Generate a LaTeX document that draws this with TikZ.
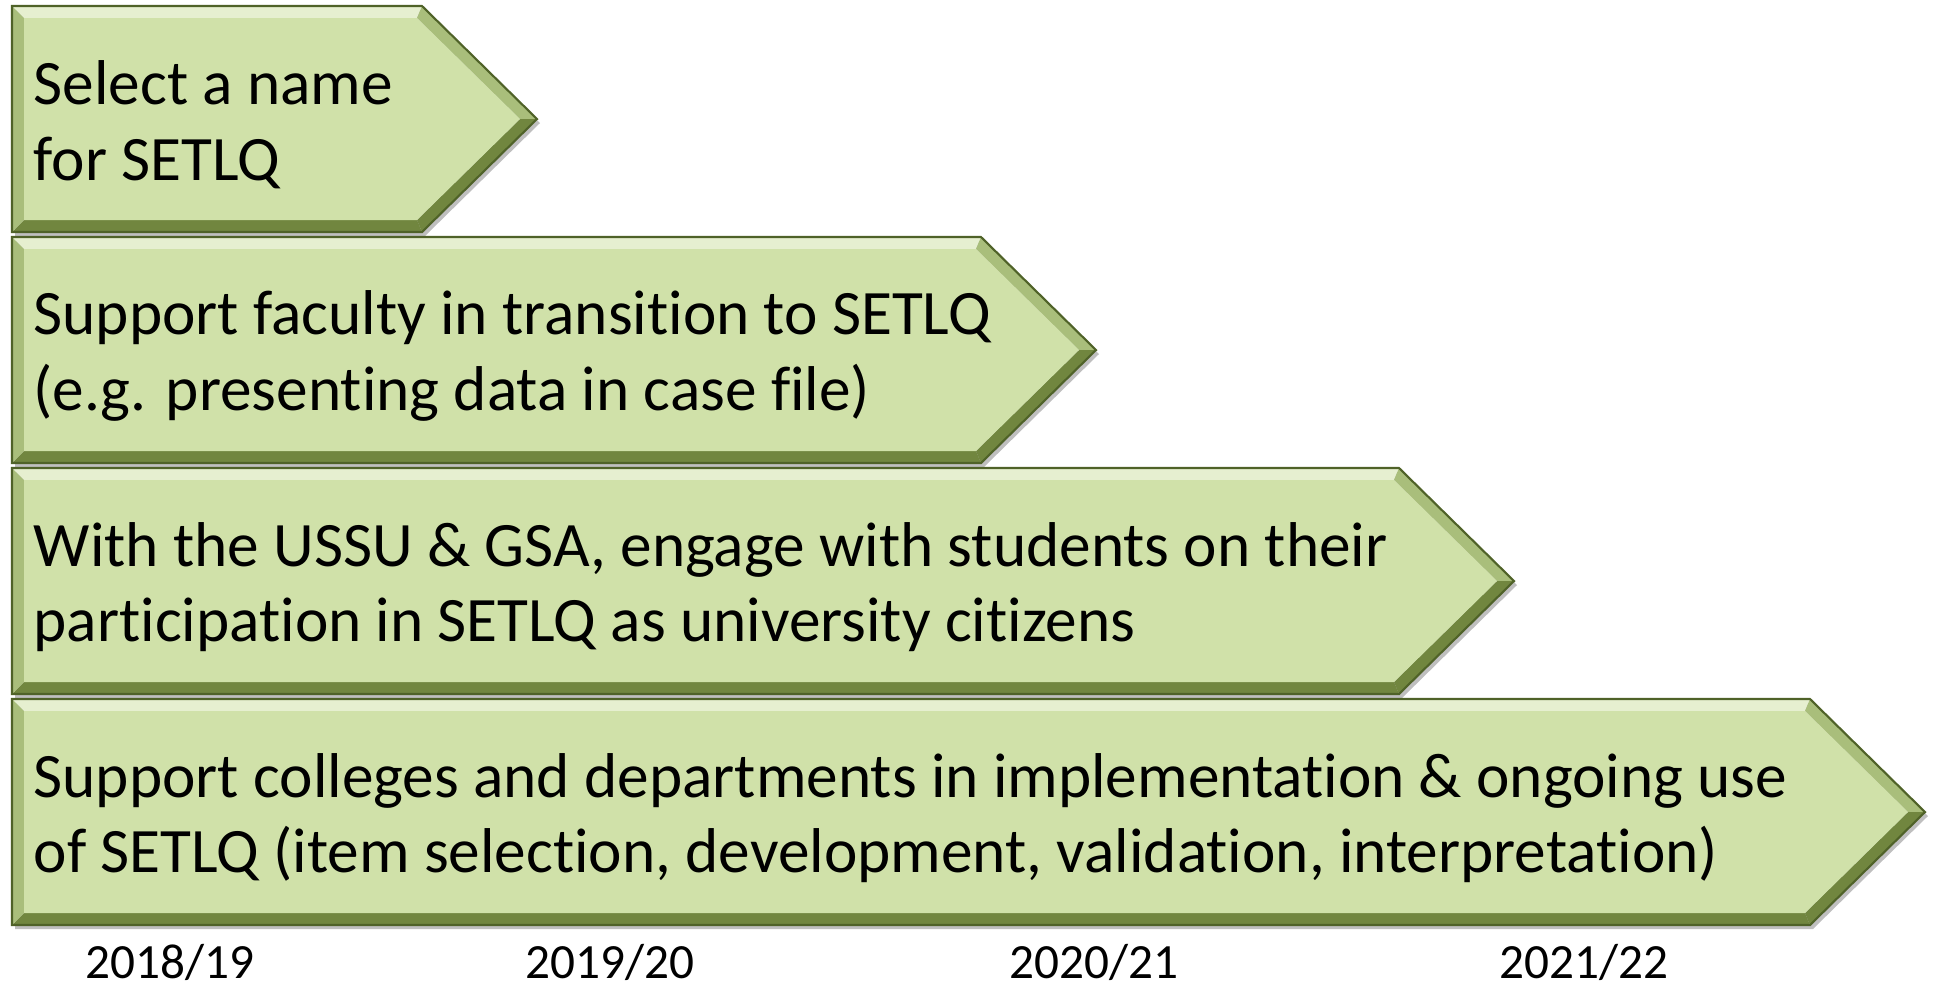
\documentclass[tikz,border=0pt]{standalone}
\usepackage{fontspec}
\setmainfont[Ligatures={NoCommon,NoRequired,NoContextual}]{Carlito}
\definecolor{mFace}{HTML}{D0E1A9}
\definecolor{mLight}{HTML}{E6EFD0}
\definecolor{mMid}{HTML}{A9BE7B}
\definecolor{mDark}{HTML}{71863F}
\definecolor{mEdge}{HTML}{4F6228}
\tikzstyle{face} = [fill=mFace]
\tikzstyle{bevlight} = [fill=mLight]
\tikzstyle{bevmid} = [fill=mMid]
\tikzstyle{bevdark} = [fill=mDark]
\tikzstyle{rim} = [draw=mEdge, line width=0.6pt, line join=miter]
\tikzstyle{shade} = [fill=black, opacity=0.25]
\tikzstyle{itemtext} = [anchor=west, align=left, inner sep=0pt,%
font=\fontsize{18}{21.5}\selectfont]
\tikzstyle{yeartext} = [inner sep=0pt, font=\fontsize{14}{16}\selectfont]
% #1 top, #2 bottom, #3 shoulder x
\newcommand{\chevron}[3]{%
  \pgfmathsetmacro{\cmid}{(#1+#2)/2}
  \pgfmathsetmacro{\ctip}{#3+115}
  \fill[shade] (15,#1+4) -- (#3+3,#1+4) -- (\ctip+3,\cmid+4) -- (#3+3,#2+4) -- (15,#2+4) -- cycle;
  \fill[bevlight] (12,#1) -- (#3,#1) -- (#3-5,#1+12) -- (24,#1+12) -- cycle;
  \fill[bevmid] (#3,#1) -- (\ctip,\cmid) -- (\ctip-17,\cmid) -- (#3-5,#1+12) -- cycle;
  \fill[bevdark] (\ctip,\cmid) -- (#3,#2) -- (#3-5,#2-12) -- (\ctip-17,\cmid) -- cycle;
  \fill[bevdark] (#3,#2) -- (12,#2) -- (24,#2-12) -- (#3-5,#2-12) -- cycle;
  \fill[bevmid] (12,#2) -- (12,#1) -- (24,#1+12) -- (24,#2-12) -- cycle;
  \fill[face] (24,#1+12) -- (#3-5,#1+12) -- (\ctip-17,\cmid) -- (#3-5,#2-12) -- (24,#2-12) -- cycle;
  \draw[rim] (12,#1) -- (#3,#1) -- (\ctip,\cmid) -- (#3,#2) -- (12,#2) -- cycle;
}

\begin{document}
\begin{tikzpicture}[x=0.01cm, y=-0.01cm]
  \useasboundingbox (0,0) rectangle (1935,990);

  \chevron{6}{232}{422}
  \chevron{237}{463}{981}
  \chevron{468}{694}{1399}
  \chevron{699}{925}{1810}

  \node (name) [itemtext] at (33,125) {Select a name\\for SETLQ};
  \node (faculty) [itemtext] at (33,356) {Support faculty in transition to SETLQ\\(e.g. presenting data in case file)};
  \node (students) [itemtext] at (33,587) {With the USSU \& GSA, engage with students on their\\participation in SETLQ as university citizens};
  \node (colleges) [itemtext] at (33,818) {Support colleges and departments in implementation \& ongoing use\\of SETLQ (item selection, development, validation, interpretation)};

  \node (y1) [yeartext] at (170,962) {2018/19};
  \node (y2) [yeartext] at (610,962) {2019/20};
  \node (y3) [yeartext] at (1094,962) {2020/21};
  \node (y4) [yeartext] at (1584,962) {2021/22};
\end{tikzpicture}
\end{document}
